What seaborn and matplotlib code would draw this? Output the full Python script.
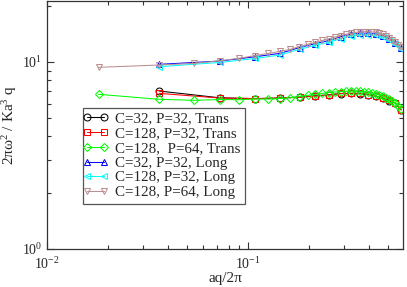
import numpy as np
import pandas as pd
import matplotlib
matplotlib.use("Agg")
import matplotlib.pyplot as plt
import matplotlib.ticker as mticker
from matplotlib.lines import Line2D
from matplotlib.legend_handler import HandlerLine2D
import seaborn as sns

# wavevector steps: coarse grid (P=32) and fine grid (P=64)
dq32 = 0.0361
dq64 = 0.01804
n32 = np.arange(1, 17)
n64 = np.arange(1, 33)

# transverse branch
trans_c32_p32 = [7.00, 6.44, 6.37, 6.42, 6.50, 6.60, 6.68, 6.78, 6.80, 6.78,
                 6.70, 6.58, 6.42, 6.22, 6.02, 5.55]
trans_c128_p32 = [6.80, 6.42, 6.38, 6.42, 6.47, 6.58, 6.66, 6.79, 6.80, 6.79,
                  6.70, 6.58, 6.42, 6.23, 6.03, 5.54]
trans_c128_p64 = [6.72, 6.32, 6.24, 6.30, 6.29, 6.34, 6.34, 6.38, 6.44, 6.54,
                  6.64, 6.72, 6.80, 6.87, 6.91, 6.95, 6.98, 7.00, 7.00, 6.97,
                  6.94, 6.89, 6.83, 6.74, 6.66, 6.56, 6.44, 6.32, 6.19, 6.03,
                  5.85, 5.61]
# longitudinal branch
long_c32_p32 = [9.72, 10.12, 10.67, 11.13, 11.96, 12.56, 13.03, 13.66, 14.12,
                14.24, 14.29, 14.17, 13.86, 13.36, 12.72, 11.96]
long_c128_p32 = [9.44, 9.95, 10.45, 10.90, 11.70, 12.30, 12.75, 13.35, 13.80,
                 13.95, 14.00, 13.90, 13.60, 13.10, 12.50, 11.80]
long_c128_p64 = [9.37, 9.64, 9.84, 10.15, 10.47, 10.83, 11.13, 11.40, 11.70,
                 12.10, 12.45, 12.75, 13.05, 13.30, 13.60, 13.85, 14.05, 14.25,
                 14.40, 14.50, 14.55, 14.55, 14.50, 14.40, 14.25, 14.05, 13.80,
                 13.50, 13.20, 12.80, 12.40, 12.00]

series = [
    ("C=32, P=32, Trans", dq32 * n32, trans_c32_p32, "black", "o"),
    ("C=128, P=32, Trans", dq32 * n32, trans_c128_p32, "red", "s"),
    ("C=128,  P=64, Trans", dq64 * n64, trans_c128_p64, "#00ff00", "D"),
    ("C=32, P=32, Long", dq32 * n32, long_c32_p32, "blue", "^"),
    ("C=128, P=32, Long", dq32 * n32, long_c128_p32, "cyan", "<"),
    ("C=128, P=64, Long", dq64 * n64, long_c128_p64, "#bc8f8f", "v"),
]

sns.set_style("ticks")
plt.rcParams["font.family"] = ["Liberation Serif", "DejaVu Serif"]
plt.rcParams["mathtext.fontset"] = "custom"
plt.rcParams["mathtext.rm"] = "Liberation Serif"
plt.rcParams["mathtext.it"] = "Liberation Serif:italic"

fig = plt.figure(figsize=(4.07, 2.87), dpi=100)
ax = fig.add_axes([0.1155, 0.1324, 0.8745, 0.864])

for label, x, y, col, mk in series:
    df = pd.DataFrame({"q": x, "w": y})
    ms = 4.4 if mk == "D" else 5.0
    sns.lineplot(data=df, x="q", y="w", ax=ax, color=col, marker=mk,
                 markersize=ms, mfc="none", mec=col, mew=0.75, lw=0.75,
                 label=label)

ax.set_xscale("log")
ax.set_yscale("log")
ax.set_xlim(0.01, 0.59)
ax.set_ylim(1, 21.2)
ax.yaxis.set_minor_formatter(mticker.NullFormatter())
ax.xaxis.set_minor_formatter(mticker.NullFormatter())
ax.tick_params(which="both", direction="in", top=True, right=True,
               labelsize=10, color="#333333")
ax.tick_params(which="major", length=5, width=0.8)
ax.tick_params(which="minor", length=3, width=0.8)
ax.tick_params(axis="x", pad=5)
for s in ax.spines.values():
    s.set_linewidth(0.9)
    s.set_color("#333333")

ax.set_xlabel("aq/2π", fontsize=11, labelpad=0)
ax.set_ylabel("2πω$^2$ / Ka$^3$ q", fontsize=11, labelpad=2)

leg = ax.legend(loc="upper left", bbox_to_anchor=(0.1, 0.57), fontsize=10.8,
                frameon=True, fancybox=False, edgecolor="#555555",
                framealpha=1, handlelength=1.1,
                handler_map={Line2D: HandlerLine2D(marker_pad=0, numpoints=2)},
                handletextpad=0.75, labelspacing=0.08, borderpad=0.3,
                borderaxespad=0)
leg.get_frame().set_linewidth(0.9)

fig.savefig("out.png", dpi=100)
